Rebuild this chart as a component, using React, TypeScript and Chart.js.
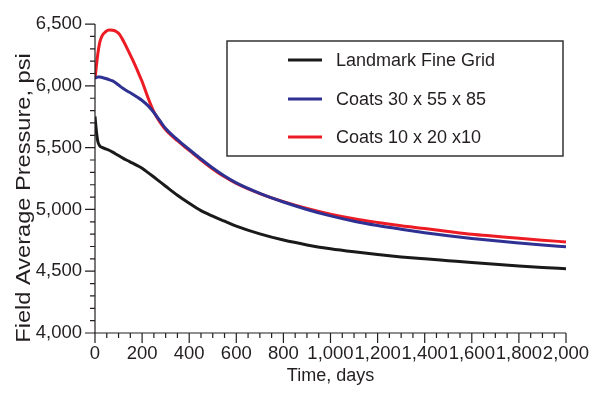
import React, { useEffect, useRef } from "react";
import { Chart, registerables } from "chart.js";

Chart.register(...registerables);

// Simulation time (days) shared by all three runs
const timeDays = [
  0, 3, 7, 12, 20, 30, 45, 60, 75, 90, 105, 120, 140, 160, 180, 200, 225, 250, 275, 300,
  350, 400, 450, 500, 550, 600, 700, 800, 900, 1000, 1100, 1200, 1300, 1400, 1500, 1600,
  1700, 1800, 1900, 2000,
];

// Field average pressure (psi)
const landmarkFine = [
  5753, 5690, 5615, 5550, 5515, 5502, 5490, 5479, 5464, 5447, 5430, 5413, 5394, 5375, 5355,
  5333, 5298, 5262, 5225, 5188, 5115, 5050, 4990, 4945, 4905, 4865, 4802, 4752, 4713, 4682,
  4657, 4635, 4616, 4600, 4585, 4570, 4556, 4543, 4531, 4520,
];
const coats305585 = [
  6062, 6066, 6069, 6071, 6072, 6068, 6060, 6050, 6040, 6022, 6000, 5978, 5955, 5933, 5908,
  5882, 5840, 5785, 5720, 5655, 5565, 5485, 5408, 5335, 5270, 5215, 5130, 5060, 5000, 4948,
  4905, 4870, 4840, 4812, 4787, 4765, 4746, 4729, 4713, 4698,
];
const coats102010 = [
  6055, 6110, 6180, 6260, 6350, 6405, 6438, 6452, 6450, 6440, 6415, 6365, 6290, 6210, 6125,
  6035, 5905, 5790, 5708, 5645, 5556, 5478, 5400, 5328, 5264, 5210, 5128, 5063, 5008, 4962,
  4925, 4895, 4868, 4845, 4822, 4800, 4783, 4766, 4751, 4737,
];

const seriesLabels = ["Landmark Fine Grid", "Coats 30 x 55 x 85", "Coats 10 x 20 x10"];
const seriesColors = ["#1a1a1a", "#2e3192", "#ed1c24"];
const yTitle = "Field Average Pressure, psi";

const FONT = "'Liberation Sans', Arial, Helvetica, sans-serif";
const TEXT = "#231f20";

const toPoints = (vals: number[]) => vals.map((v, i) => ({ x: timeDays[i], y: v }));

// Draws axis lines, major/minor tick marks, the y-axis title and the boxed legend
const decorPlugin = {
  id: "axisDecor",
  afterDraw(chart: any) {
    const { ctx, chartArea, scales } = chart;
    const xs = scales.x;
    const ys = scales.y;
    ctx.save();
    ctx.strokeStyle = TEXT;
    ctx.lineWidth = 1.2;

    // axis lines
    ctx.beginPath();
    ctx.moveTo(chartArea.left, chartArea.top);
    ctx.lineTo(chartArea.left, chartArea.bottom);
    ctx.lineTo(chartArea.right, chartArea.bottom);
    ctx.stroke();

    // y ticks: every 100, major every 500
    ctx.beginPath();
    for (let v = 4000; v <= 6500; v += 100) {
      const py = ys.getPixelForValue(v);
      const len = v % 500 === 0 ? 10 : 5;
      ctx.moveTo(chartArea.left - len, py);
      ctx.lineTo(chartArea.left, py);
    }
    // x ticks: every 50, major every 200
    for (let t = 0; t <= 2000; t += 50) {
      const px = xs.getPixelForValue(t);
      const len = t % 200 === 0 ? 10 : 5;
      ctx.moveTo(px, chartArea.bottom);
      ctx.lineTo(px, chartArea.bottom + len);
    }
    ctx.stroke();

    // y-axis title, rotated and set a little wide along its run
    ctx.save();
    ctx.translate(24, 198);
    ctx.rotate(-Math.PI / 2);
    ctx.scale(1.18, 1);
    ctx.font = `20px ${FONT}`;
    ctx.fillStyle = TEXT;
    ctx.textAlign = "center";
    ctx.textBaseline = "middle";
    ctx.fillText(yTitle, 0, 0);
    ctx.restore();

    // legend box
    const box = { left: 227, top: 41, right: 563, bottom: 156 };
    ctx.lineWidth = 1.5;
    ctx.strokeStyle = "#333333";
    ctx.strokeRect(box.left, box.top, box.right - box.left, box.bottom - box.top);
    const rows = [60, 99, 137];
    ctx.font = `18px ${FONT}`;
    ctx.textBaseline = "middle";
    ctx.textAlign = "left";
    chart.data.datasets.forEach((ds: any, i: number) => {
      ctx.strokeStyle = ds.borderColor;
      ctx.lineWidth = 3;
      ctx.beginPath();
      ctx.moveTo(288, rows[i]);
      ctx.lineTo(322, rows[i]);
      ctx.stroke();
      ctx.fillStyle = TEXT;
      ctx.fillText(ds.label, 336, rows[i] + 1);
    });
    ctx.restore();
  },
};

export default function App() {
  const canvasRef = useRef<HTMLCanvasElement | null>(null);

  useEffect(() => {
    if (!canvasRef.current) return;
    const series = [landmarkFine, coats305585, coats102010];
    const chart = new Chart(canvasRef.current, {
      type: "line",
      data: {
        datasets: series.map((vals, i) => ({
          label: seriesLabels[i],
          data: toPoints(vals),
          borderColor: seriesColors[i],
          backgroundColor: seriesColors[i],
          borderWidth: 3,
          pointRadius: 0,
          cubicInterpolationMode: "monotone" as const,
          fill: false,
        })),
      },
      options: {
        animation: false,
        responsive: false,
        layout: { padding: { top: 15, right: 34, left: 0, bottom: 0 } },
        plugins: { legend: { display: false }, tooltip: { enabled: false } },
        scales: {
          x: {
            type: "linear",
            min: 0,
            max: 2000,
            afterFit: (s: any) => {
              s.height = 63;
            },
            grid: { display: false, drawTicks: false },
            border: { display: false },
            ticks: {
              stepSize: 200,
              padding: 10,
              maxRotation: 0,
              autoSkip: false,
              color: TEXT,
              font: { family: FONT, size: 18.5 },
              callback: (v: any) => Number(v).toLocaleString("en-US"),
            },
            title: {
              display: true,
              text: "Time, days",
              color: TEXT,
              font: { family: FONT, size: 18 },
              padding: { top: 0, bottom: 9 },
            },
          },
          y: {
            type: "linear",
            min: 4000,
            max: 6500,
            afterFit: (s: any) => {
              s.width = 95;
            },
            grid: { display: false, drawTicks: false },
            border: { display: false },
            ticks: {
              stepSize: 500,
              padding: 13,
              color: TEXT,
              font: { family: FONT, size: 18.5 },
              callback: (v: any) => Number(v).toLocaleString("en-US"),
            },
          },
        },
      },
      plugins: [decorPlugin],
    });
    return () => chart.destroy();
  }, []);

  return (
    <div style={{ position: "absolute", left: 0, top: 0, width: 600, height: 396, background: "#fff" }}>
      <canvas ref={canvasRef} width={600} height={396} />
    </div>
  );
}
